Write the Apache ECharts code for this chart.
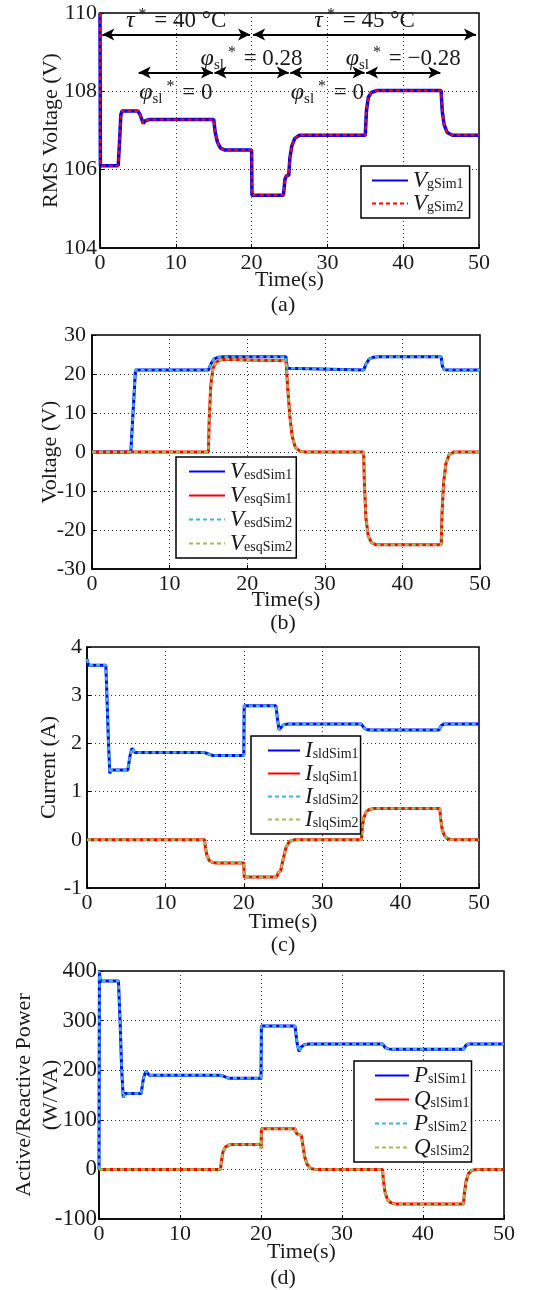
<!DOCTYPE html>
<html>
<head>
<meta charset="utf-8">
<script src="https://cdn.jsdelivr.net/npm/echarts@6/dist/echarts.min.js"></script>
<style>
  html, body { margin: 0; padding: 0; background: #fff; }
  #chart { width: 536px; height: 1290px; }
</style>
</head>
<body>
<div id="chart"></div>
<script>
// 字体 / 颜色
const FONT = '"Liberation Serif", "Times New Roman", serif'
const TXT = '#1a1a1a'
const BLUE = '#0000ff'
const RED = '#ff0000'
const CYAN = '#3fb6d8'
const OLIVE = '#9cc052'

// 坐标轴范围 [min, max, interval]
const timeAxis = [0, 50, 10]
const vgAxis = [104, 110, 2]
const vesAxis = [-30, 30, 10]
const islAxis = [-1, 4, 1]
const powAxis = [-100, 400, 100]

// (a) RMS 电压 [t, V]
const vgSim1 = [[0, 110], [0.05, 106.1], [2.4, 106.1], [2.55, 106.6], [2.75, 107.4], [2.9, 107.5], [5.0, 107.5],
  [5.3, 107.4], [5.7, 107.18], [6.0, 107.25], [6.5, 107.28], [15.0, 107.28], [15.2, 106.95], [15.5, 106.7],
  [15.9, 106.55], [16.5, 106.5], [20.0, 106.5], [20.05, 105.35], [24.2, 105.35], [24.4, 105.75], [24.6, 105.85],
  [24.9, 105.85], [25.05, 106.3], [25.3, 106.6], [25.7, 106.8], [26.3, 106.88], [35.0, 106.88], [35.15, 107.5],
  [35.4, 107.85], [35.8, 107.97], [36.5, 108.02], [45.0, 108.02], [45.15, 107.5], [45.4, 107.15], [45.8, 106.95],
  [46.5, 106.88], [50, 106.88]]
const vgSim2 = vgSim1 // 两条仿真曲线在图上完全重合

// (b) Ves d/q 轴电压 [t, V]
const vesdSim1 = [[0, 0], [5.0, 0], [5.6, 21], [15.0, 21], [15.3, 22.5], [15.7, 23.8], [16.3, 24.3], [17, 24.4],
  [25.0, 24.4], [25.15, 21.5], [25.4, 21], [35.0, 21], [35.3, 22.5], [35.7, 23.8], [36.3, 24.3], [37, 24.4],
  [45.0, 24.4], [45.15, 22], [45.4, 21.1], [46, 21], [50, 21]]
const vesqSim1 = [[0, 0], [15.0, 0], [15.1, 8], [15.3, 17], [15.6, 21.5], [16, 23], [16.5, 23.6], [17, 23.8],
  [20, 23.6], [25.0, 23.4], [25.2, 17], [25.5, 9], [25.8, 4], [26.2, 1.2], [26.8, 0.2], [27.5, 0], [35.0, 0],
  [35.1, -8], [35.3, -17], [35.6, -21.5], [36, -23.2], [36.6, -23.8], [45.0, -23.8], [45.1, -16], [45.3, -8],
  [45.6, -3], [46, -0.8], [46.6, 0], [50, 0]]
const vesdSim2 = vesdSim1
const vesqSim2 = vesqSim1

// (c) Isl d/q 轴电流 [t, A]
const isldSim1 = [[0, 3.75], [0.2, 3.62], [2.4, 3.62], [2.5, 3.2], [2.7, 2.2], [2.9, 1.38], [3.1, 1.45], [5.2, 1.45],
  [5.5, 1.75], [5.75, 1.9], [6.1, 1.81], [15.0, 1.81], [15.5, 1.78], [16.0, 1.75], [20.0, 1.75], [20.05, 2.78],
  [24.1, 2.78], [24.3, 2.5], [24.5, 2.28], [24.7, 2.3], [25.0, 2.38], [25.5, 2.4], [35.0, 2.4], [35.3, 2.33],
  [35.6, 2.29], [36.2, 2.28], [44.9, 2.28], [45.2, 2.37], [45.5, 2.4], [50, 2.4]]
const islqSim1 = [[0, 0], [15.0, 0], [15.1, -0.15], [15.3, -0.33], [15.6, -0.43], [16, -0.47], [16.5, -0.48],
  [20.0, -0.48], [20.05, -0.77], [24.2, -0.77], [24.4, -0.68], [24.7, -0.64], [24.95, -0.6], [25.1, -0.35],
  [25.4, -0.15], [25.8, -0.04], [26.4, 0], [35.0, 0], [35.1, 0.25], [35.3, 0.45], [35.6, 0.58], [36, 0.63],
  [36.6, 0.65], [45.0, 0.65], [45.1, 0.45], [45.3, 0.22], [45.6, 0.08], [46, 0.02], [46.6, 0], [50, 0]]
const isldSim2 = isldSim1
const islqSim2 = islqSim1

// (d) 有功 / 无功功率 [t, W 或 VA]
const pslSim1 = [[0, 0], [0.05, 400], [0.15, 380], [2.4, 380], [2.6, 300], [2.8, 200], [3.0, 145], [3.2, 153],
  [5.2, 153], [5.5, 185], [5.8, 198], [6.2, 190], [15.0, 190], [15.5, 187], [16.0, 184], [20.0, 184],
  [20.05, 289], [24.2, 289], [24.45, 255], [24.7, 238], [25.0, 247], [25.4, 252], [26, 253], [35.0, 253],
  [35.3, 246], [35.7, 243], [36.2, 242], [45.0, 242], [45.3, 250], [45.6, 253], [50, 253]]
const qslSim1 = [[0, 0], [15.0, 0], [15.1, 15], [15.3, 35], [15.6, 45], [16, 49], [16.5, 50], [20.0, 50],
  [20.02, 42], [20.05, 82], [24.2, 82], [24.4, 72], [24.6, 68], [25.0, 68], [25.15, 50], [25.4, 25], [25.7, 10],
  [26.1, 2], [26.7, 0], [35.0, 0], [35.1, -20], [35.3, -45], [35.6, -60], [36, -67], [36.6, -70], [45.0, -70],
  [45.1, -50], [45.3, -25], [45.6, -9], [46, -2], [46.6, 0], [50, 0]]
const pslSim2 = pslSim1
const qslSim2 = qslSim1

// (a) 里的箭头标注: [t1, t2, 高度, 文本, 上/下]
const arrowRows = [
  [0.3, 19.8, 109.45, '{g|τ}{sp|*}{n| = 40 °C}', 'top'],
  [20.2, 49.6, 109.45, '{g|τ}{sp|*}{n| = 45 °C}', 'top'],
  [5.1, 14.9, 108.48, '{g|φ}{sb|sl}{sp|*}{n| = 0}', 'bottom'],
  [15.1, 24.9, 108.48, '{g|φ}{sb|sl}{sp|*}{n| = 0.28}', 'top'],
  [25.1, 34.9, 108.48, '{g|φ}{sb|sl}{sp|*}{n| = 0}', 'bottom'],
  [35.1, 44.9, 108.48, '{g|φ}{sb|sl}{sp|*}{n| = −0.28}', 'top']
]

const captions = ['(a)', '(b)', '(c)', '(d)']

const grids = [
  { left: 100, top: 13, width: 379, height: 235 },
  { left: 92, top: 335, width: 388, height: 234 },
  { left: 87, top: 647, width: 392, height: 241 },
  { left: 99, top: 971, width: 405, height: 248 }
]

const annoRich = {
  g: { fontFamily: FONT, fontStyle: 'italic', fontSize: 24, color: TXT, lineHeight: 28 },
  sb: { fontFamily: FONT, fontSize: 15, color: TXT, verticalAlign: 'bottom', lineHeight: 14 },
  sp: { fontFamily: FONT, fontSize: 16, color: TXT, verticalAlign: 'top', lineHeight: 14, padding: [0, 2, 0, 4] },
  n: { fontFamily: FONT, fontSize: 23, color: TXT, lineHeight: 28 }
}

function xAx(i, gap) {
  return {
    type: 'value', gridIndex: i, min: timeAxis[0], max: timeAxis[1], interval: timeAxis[2],
    name: 'Time(s)', nameLocation: 'middle', nameGap: gap, nameMoveOverlap: false,
    nameTextStyle: { fontFamily: FONT, fontSize: 22, color: TXT },
    axisLine: { show: true, onZero: false, lineStyle: { color: '#000', width: 1.5 } },
    axisTick: { show: true, inside: true, length: 4, lineStyle: { color: '#000' } },
    axisLabel: { fontFamily: FONT, fontSize: 22, color: TXT, margin: 4 },
    splitLine: { show: true, lineStyle: { color: '#333', type: [1, 3], width: 1 } }
  }
}

function yAx(i, r, name, gap, size, margin) {
  return {
    type: 'value', gridIndex: i, min: r[0], max: r[1], interval: r[2],
    name, nameLocation: 'middle', nameGap: gap, nameMoveOverlap: false,
    nameTextStyle: { fontFamily: FONT, fontSize: 22, color: TXT, lineHeight: 27 },
    axisLine: { show: true, onZero: false, lineStyle: { color: '#000', width: 1.5 } },
    axisTick: { show: true, inside: true, length: 4, lineStyle: { color: '#000' } },
    axisLabel: { fontFamily: FONT, fontSize: size, color: TXT, margin },
    splitLine: { show: true, lineStyle: { color: '#333', type: [1, 3], width: 1 } }
  }
}

function line(name, data, i, color, width, dash) {
  return {
    type: 'line', name, data, xAxisIndex: i, yAxisIndex: i,
    showSymbol: false, symbol: 'none', animation: false,
    lineStyle: { color, width, type: dash ? [4, 3] : 'solid' },
    itemStyle: { color }
  }
}

function legend(names, left, top, gap, w, pad) {
  return {
    data: names, orient: 'vertical', left, top, itemWidth: w, itemHeight: 12, itemGap: gap,
    backgroundColor: '#fff', borderColor: '#000', borderWidth: 1.5, padding: pad,
    selectedMode: false,
    itemStyle: { opacity: 0 },
    formatter: n => `{m|${n[0]}}{s|${n.slice(1)}}`,
    textStyle: {
      rich: {
        m: { fontFamily: FONT, fontStyle: 'italic', fontSize: 23, color: TXT, lineHeight: 22 },
        s: { fontFamily: FONT, fontSize: 14, color: TXT, verticalAlign: 'bottom', lineHeight: 12 }
      }
    }
  }
}

// 箭头标注挂在 (a) 的第二条曲线上
const annoSeries = line('VgSim2', vgSim2, 0, RED, 2.2, true)
annoSeries.markLine = {
  silent: true, animation: false, symbol: ['arrow', 'arrow'], symbolSize: [9, 12],
  lineStyle: { color: '#000', width: 1.8, type: 'solid' },
  data: arrowRows.map(([a, b, y, txt, pos]) => [
    {
      coord: [a, y],
      label: {
        show: true, formatter: txt, rich: annoRich,
        position: pos === 'top' ? 'insideMiddleTop' : 'insideMiddleBottom',
        distance: pos === 'top' ? 0 : 6
      }
    },
    { coord: [b, y] }
  ])
}

const option = {
  backgroundColor: '#fff',
  animation: false,
  grid: grids.map(g => ({
    ...g, show: true, borderColor: '#000', borderWidth: 1.5, backgroundColor: 'transparent',
    containLabel: false, outerBoundsMode: 'none'
  })),
  xAxis: [xAx(0, 21), xAx(1, 20), xAx(2, 23), xAx(3, 22)],
  yAxis: [
    yAx(0, vgAxis, 'RMS Voltage (V)', 35, 22, 3),
    yAx(1, vesAxis, 'Voltage (V)', 28, 22, 6),
    yAx(2, islAxis, 'Current (A)', 24, 22, 5),
    yAx(3, powAxis, 'Active/Reactive Power\n(W/VA)', 34, 23, 2)
  ],
  legend: [
    legend(['VgSim1', 'VgSim2'], 361, 166, 0, 36, [3, 6, 3, 10]),
    legend(['VesdSim1', 'VesqSim1', 'VesdSim2', 'VesqSim2'], 176, 457, 1, 36, [3, 4, 3, 12]),
    legend(['IsldSim1', 'IslqSim1', 'IsldSim2', 'IslqSim2'], 251, 736, 0, 32, [3, 2, 3, 16]),
    legend(['PslSim1', 'QslSim1', 'PslSim2', 'QslSim2'], 354, 1061, 1, 34, [3, 2, 3, 20])
  ],
  graphic: captions.map((c, i) => ({
    type: 'text', x: 283, y: [305, 623, 945, 1278][i],
    style: { text: c, fontFamily: FONT, fontSize: 22, fill: TXT, align: 'center', verticalAlign: 'middle' }
  })),
  series: [
    line('VgSim1', vgSim1, 0, BLUE, 3.5, false),
    annoSeries,
    line('VesdSim1', vesdSim1, 1, BLUE, 3, false),
    line('VesqSim1', vesqSim1, 1, RED, 3, false),
    line('VesdSim2', vesdSim2, 1, CYAN, 2.5, true),
    line('VesqSim2', vesqSim2, 1, OLIVE, 2.5, true),
    line('IsldSim1', isldSim1, 2, BLUE, 3, false),
    line('IslqSim1', islqSim1, 2, RED, 3, false),
    line('IsldSim2', isldSim2, 2, CYAN, 2.5, true),
    line('IslqSim2', islqSim2, 2, OLIVE, 2.5, true),
    line('PslSim1', pslSim1, 3, BLUE, 3, false),
    line('QslSim1', qslSim1, 3, RED, 3, false),
    line('PslSim2', pslSim2, 3, CYAN, 2.5, true),
    line('QslSim2', qslSim2, 3, OLIVE, 2.5, true)
  ]
}

const chart = echarts.init(document.getElementById('chart'), null, { renderer: 'canvas' })
chart.setOption(option)
</script>
</body>
</html>
